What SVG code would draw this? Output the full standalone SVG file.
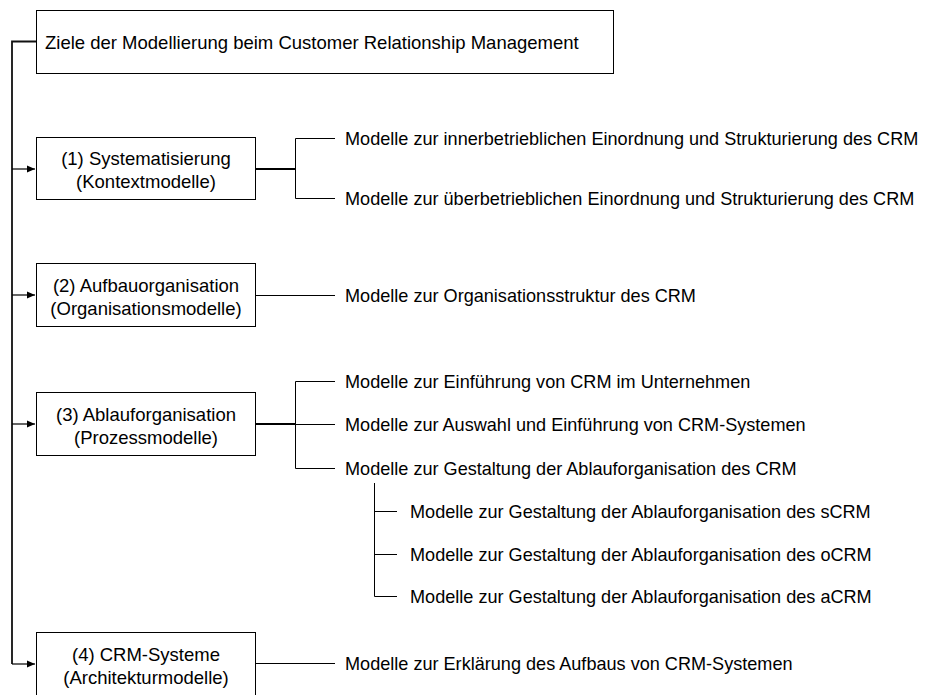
<svg xmlns="http://www.w3.org/2000/svg" width="934" height="695" viewBox="0 0 934 695">
  <defs>
    <marker id="arrow" viewBox="0 0 8 8" refX="8" refY="4" markerWidth="8" markerHeight="8" markerUnits="userSpaceOnUse" orient="auto">
      <path d="M0,0.5 L8,4 L0,7.5 z" fill="#000"/>
    </marker>
    <style>
      .box { fill: #fff; stroke: #000; stroke-width: 1; }
      .t { font-family: "Liberation Sans", Arial, sans-serif; font-size: 18.1px; fill: #000; }
      .big { font-size: 18.5px; }
      .c { text-anchor: middle; }
      .trunk { fill: none; stroke: #111; stroke-width: 1.8; }
      .feed { fill: none; stroke: #000; stroke-width: 1.2; }
      .stem { fill: none; stroke: #000; stroke-width: 2; }
      .branch { fill: none; stroke: #000; stroke-width: 1; }
    </style>
  </defs>
  <rect width="934" height="695" fill="#fff"/>

  <!-- connectors -->
  <g id="connectors">
    <!-- main trunk from the goal box down to each model group -->
    <path class="trunk" d="M36,41.5 H12 V664"/>
    <path class="feed" d="M12,169 H35" marker-end="url(#arrow)"/>
    <path class="feed" d="M12,295 H35" marker-end="url(#arrow)"/>
    <path class="feed" d="M12,424 H35" marker-end="url(#arrow)"/>
    <path class="feed" d="M12,664 H35" marker-end="url(#arrow)"/>

    <!-- (1) branches -->
    <path class="stem" d="M255.5,169 H295"/>
    <path class="branch" d="M335,138.5 H295.5 V198.5 H335"/>

    <!-- (2) branch -->
    <path class="branch" d="M255.5,295.5 H335"/>

    <!-- (3) branches -->
    <path class="stem" d="M255.5,424 H295"/>
    <path class="branch" d="M335,381.5 H295.5 V468.5 H335 M295.5,424.5 H335"/>
    <path class="branch" d="M374.5,483 V596.5 H397 M374.5,511.5 H397 M374.5,554.5 H397"/>

    <!-- (4) branch -->
    <path class="branch" d="M255.5,663.5 H335"/>
  </g>

  <g id="goal">
    <rect class="box" x="36.5" y="10.5" width="577" height="63"/>
    <text class="t big" x="45" y="48.5">Ziele der Modellierung beim Customer Relationship Management</text>
  </g>

  <g id="systematisierung">
    <rect class="box" x="36.5" y="137.5" width="219" height="62"/>
    <text class="t big c" x="146" y="165">(1) Systematisierung</text>
    <text class="t big c" x="146" y="188">(Kontextmodelle)</text>
  </g>

  <g id="aufbauorganisation">
    <rect class="box" x="36.5" y="263.5" width="219" height="63"/>
    <text class="t big c" x="146" y="291.5">(2) Aufbauorganisation</text>
    <text class="t big c" x="146" y="314.5">(Organisationsmodelle)</text>
  </g>

  <g id="ablauforganisation">
    <rect class="box" x="36.5" y="392.5" width="219" height="63"/>
    <text class="t big c" x="146" y="420.5">(3) Ablauforganisation</text>
    <text class="t big c" x="146" y="443.5">(Prozessmodelle)</text>
  </g>

  <g id="crm-systeme">
    <rect class="box" x="36.5" y="632.5" width="219" height="63"/>
    <text class="t big c" x="146" y="660.5">(4) CRM-Systeme</text>
    <text class="t big c" x="146" y="683.5">(Architekturmodelle)</text>
  </g>

  <g id="kontext-inner">
    <text class="t" x="345" y="145">Modelle zur innerbetrieblichen Einordnung und Strukturierung des CRM</text>
  </g>
  <g id="kontext-ueber">
    <text class="t" x="345" y="205">Modelle zur überbetrieblichen Einordnung und Strukturierung des CRM</text>
  </g>
  <g id="organisationsstruktur">
    <text class="t" x="345" y="302">Modelle zur Organisationsstruktur des CRM</text>
  </g>
  <g id="einfuehrung">
    <text class="t" x="345" y="388">Modelle zur Einführung von CRM im Unternehmen</text>
  </g>
  <g id="auswahl">
    <text class="t" x="345" y="431">Modelle zur Auswahl und Einführung von CRM-Systemen</text>
  </g>
  <g id="gestaltung">
    <text class="t" x="345" y="475">Modelle zur Gestaltung der Ablauforganisation des CRM</text>
  </g>
  <g id="gestaltung-scrm">
    <text class="t" x="410" y="518">Modelle zur Gestaltung der Ablauforganisation des sCRM</text>
  </g>
  <g id="gestaltung-ocrm">
    <text class="t" x="410" y="561">Modelle zur Gestaltung der Ablauforganisation des oCRM</text>
  </g>
  <g id="gestaltung-acrm">
    <text class="t" x="410" y="603">Modelle zur Gestaltung der Ablauforganisation des aCRM</text>
  </g>
  <g id="architektur">
    <text class="t" x="345" y="670">Modelle zur Erklärung des Aufbaus von CRM-Systemen</text>
  </g>
</svg>
